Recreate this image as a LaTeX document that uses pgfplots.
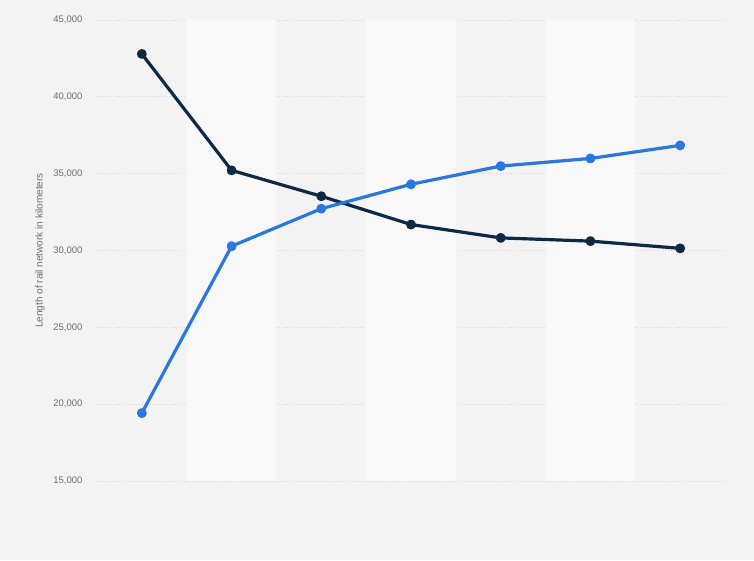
\documentclass[border=0pt]{standalone}
\usepackage{fontspec}
\setmainfont{Liberation Sans}
\usepackage{pgfplots}
\pgfplotsset{compat=1.18}
\definecolor{bgcol}{HTML}{F3F3F3}
\definecolor{bandcol}{HTML}{F8F8F8}
\definecolor{gridcol}{HTML}{D6D6D6}
\definecolor{tickcol}{HTML}{6E6E6E}
\definecolor{navy}{HTML}{0D2943}
\definecolor{bluecol}{HTML}{2A77DD}

\begin{document}
\begin{tikzpicture}[x=1pt,y=1pt]
\fill[bgcol] (0,0) rectangle (754,560);
\begin{axis}[
    at={(97pt,79pt)}, anchor=south west,
    scale only axis,
    width=628pt, height=461pt,
    xmin=-0.5, xmax=6.5,
    ymin=15000, ymax=45000,
    ytick={15000,20000,...,45000},
    xtick=\empty,
    axis line style={draw=none},
    major tick length=0pt,
    ymajorgrids,
    grid style={gridcol, line width=0.8pt, dotted},
    yticklabel style={font=\fontsize{9.5}{11}\selectfont, text=tickcol, xshift=-11pt},
    /pgf/number format/assume math mode=true,
    /pgf/number format/1000 sep={,},
    scaled y ticks=false,
    clip=false,
]
\fill[bandcol] (axis cs:0.5,15000) rectangle (axis cs:1.5,45000);
\fill[bandcol] (axis cs:2.5,15000) rectangle (axis cs:3.5,45000);
\fill[bandcol] (axis cs:4.5,15000) rectangle (axis cs:5.5,45000);
\addplot[color=navy, line width=3.2pt, mark=*, mark size=3.3pt, line join=round] coordinates {
  (0,42790)(1,35215)(2,33530)(3,31690)(4,30820)(5,30610)(6,30140)
};
\addplot[color=bluecol, line width=3.2pt, mark=*, mark size=3.3pt, line join=round] coordinates {
  (0,19420)(1,30280)(2,32720)(3,34310)(4,35495)(5,35990)(6,36840)
};
\node[rotate=90, font=\fontsize{10}{12}\selectfont, text=tickcol, anchor=center]
  at ([xshift=-57pt]axis description cs:0,0.5) {Length of rail network in kilometers};
\end{axis}
\end{tikzpicture}
\end{document}
